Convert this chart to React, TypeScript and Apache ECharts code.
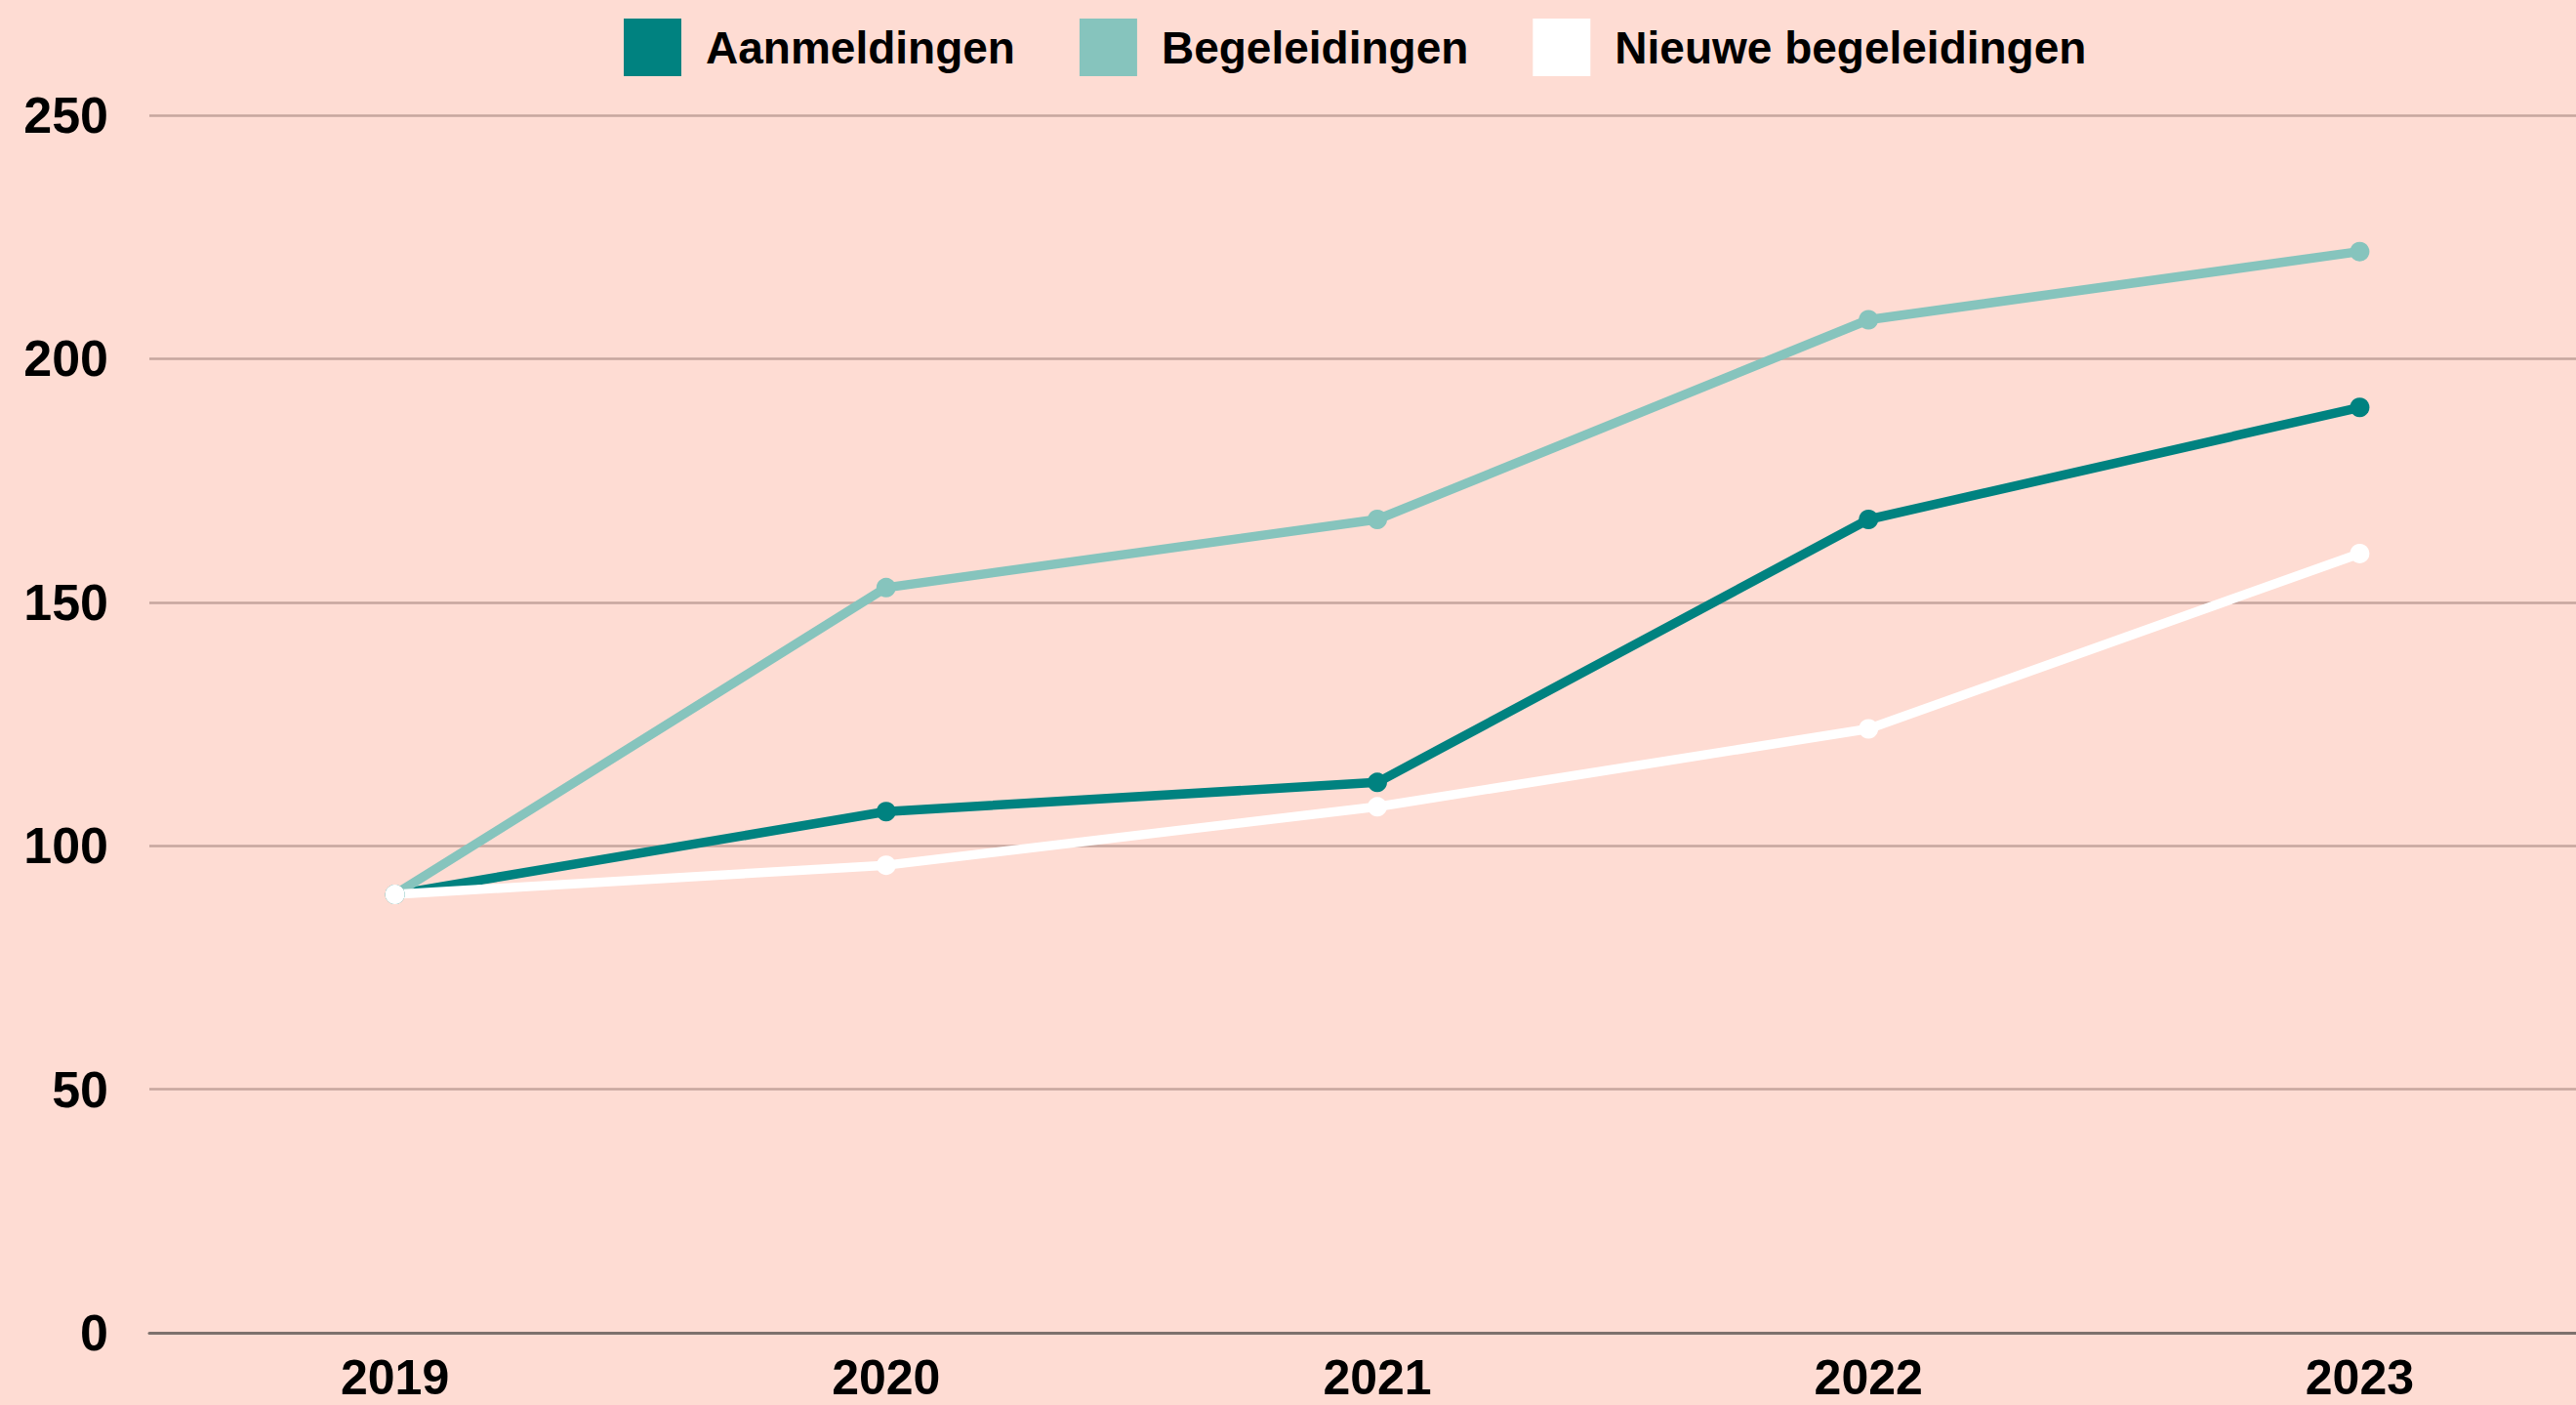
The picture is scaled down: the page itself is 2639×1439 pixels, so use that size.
import React, { useEffect, useRef } from "react";
import * as echarts from "echarts";

const years = ["2019", "2020", "2021", "2022", "2023"];
const aanmeldingen = [90, 107, 113, 167, 190];
const begeleidingen = [90, 153, 167, 208, 222];
const nieuweBegeleidingen = [90, 96, 108, 124, 160];
const yTicks = { min: 0, max: 250, interval: 50 };

const DARK = "#008280";
const LIGHT = "#86c4bd";
const WHITE = "#ffffff";
const BG = "#fedcd3";
const FONT = "Liberation Sans";

export default function App() {
  const ref = useRef<HTMLDivElement>(null);
  useEffect(() => {
    document.body.style.margin = "0";
    const chart = echarts.init(ref.current!, null, { renderer: "svg" });
    const mk = (name: string, data: number[], color: string) => ({
      name,
      type: "line",
      data,
      symbol: "circle",
      symbolSize: 20,
      showSymbol: true,
      itemStyle: { color },
      lineStyle: { color, width: 9.5 },
    });
    chart.setOption({
      animation: false,
      backgroundColor: BG,
      legend: {
        left: 634,
        top: 14,
        itemWidth: 59,
        itemHeight: 59,
        itemGap: 66,
        icon: "rect",
        textStyle: {
          fontFamily: FONT,
          fontWeight: "bold",
          fontSize: 46,
          color: "#000",
          padding: [0, 0, 0, 20],
        },
        data: ["Aanmeldingen", "Begeleidingen", "Nieuwe begeleidingen"],
      },
      grid: { left: 153, top: 118, width: 2516, height: 1247, containLabel: false },
      xAxis: {
        type: "category",
        data: years,
        boundaryGap: true,
        axisLine: { lineStyle: { color: "#7d716d", width: 3 } },
        axisTick: { show: false },
        axisLabel: {
          margin: 26,
          fontFamily: FONT,
          fontWeight: "bold",
          fontSize: 50,
          lineHeight: 40,
          color: "#000",
        },
      },
      yAxis: {
        type: "value",
        min: yTicks.min,
        max: yTicks.max,
        interval: yTicks.interval,
        axisLine: { show: false },
        axisTick: { show: false },
        splitLine: { lineStyle: { color: "#c6a69e", width: 2.5 } },
        axisLabel: {
          margin: 42,
          fontFamily: FONT,
          fontWeight: "bold",
          fontSize: 52,
          color: "#000",
        },
      },
      series: [
        mk("Aanmeldingen", aanmeldingen, DARK),
        mk("Begeleidingen", begeleidingen, LIGHT),
        mk("Nieuwe begeleidingen", nieuweBegeleidingen, WHITE),
      ],
    });
    return () => chart.dispose();
  }, []);
  return (
    <div style={{ width: 2639, height: 1439, overflow: "hidden" }}>
      <div ref={ref} style={{ width: 2700, height: 1439 }} />
    </div>
  );
}
